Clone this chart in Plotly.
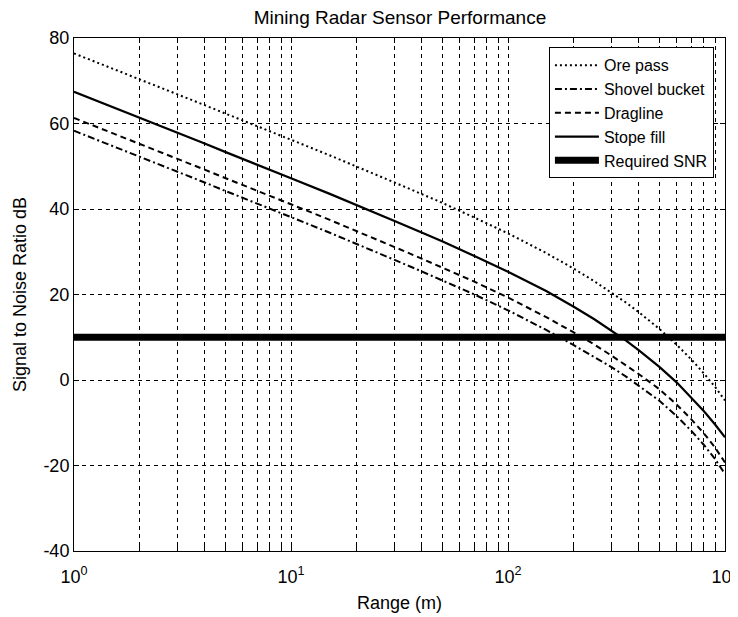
import plotly.graph_objects as go

range_m = [1, 1.5, 2, 3, 4, 5, 7, 10, 15, 20, 30, 40, 50, 70, 100, 150, 200, 250, 300, 350, 400, 500, 600, 700, 800, 900, 1000]

ore_pass = [76.4, 72.9, 70.3, 66.8, 64.3, 62.3, 59.4, 56.2, 52.6, 50.0, 46.2, 43.5, 41.4, 38.0, 34.3, 29.7, 26.1, 23.1, 20.5, 18.1, 15.9, 11.9, 8.2, 4.8, 1.5, -1.6, -4.8]
shovel_bucket = [58.3, 54.8, 52.2, 48.7, 46.2, 44.2, 41.3, 38.1, 34.5, 31.9, 28.1, 25.4, 23.3, 20.0, 16.3, 11.7, 8.2, 5.4, 3.0, 0.8, -1.3, -4.9, -8.5, -11.9, -15.2, -18.5, -22.0]
dragline = [61.3, 57.8, 55.2, 51.7, 49.2, 47.2, 44.3, 41.1, 37.5, 34.9, 31.1, 28.4, 26.3, 23.0, 19.3, 14.7, 11.2, 8.3, 5.7, 3.5, 1.4, -2.2, -5.8, -9.2, -12.5, -15.8, -19.3]
stope_fill = [67.4, 63.9, 61.3, 57.8, 55.3, 53.3, 50.4, 47.2, 43.6, 41.0, 37.2, 34.5, 32.4, 29.0, 25.3, 20.8, 17.2, 14.2, 11.6, 9.2, 7.0, 3.0, -0.6, -4.1, -7.3, -10.4, -13.4]

snr_range = [1, 1000]
required_snr = [10, 10]

decades = [1, 10, 100, 1000]
decade_labels = ["10<sup>0</sup>", "10<sup>1</sup>", "10<sup>2</sup>", "10<sup>3</sup>"]
x_tickvals = [m * d for d in decades[:3] for m in range(1, 10)] + [1000]
x_ticktext = [decade_labels[decades.index(v)] if v in decades else "" for v in x_tickvals]

y_tickvals = [-40, -20, 0, 20, 40, 60, 80]
y_ticktext = ["-40", "-20", "0", "20", "40", "60", "80"]

FONT = "Liberation Sans, Arial, sans-serif"

fig = go.Figure()
series = [
    ("Ore pass", ore_pass, "2px,3px", 2),
    ("Shovel bucket", shovel_bucket, "7px,3px,2px,3px", 2),
    ("Dragline", dragline, "6px,4px", 2),
    ("Stope fill", stope_fill, "solid", 2.2),
]
for name, vals, dash, w in series:
    fig.add_trace(go.Scatter(x=range_m, y=vals, mode="lines", name=name,
                             line=dict(color="black", width=w, dash=dash)))
fig.add_trace(go.Scatter(x=snr_range, y=required_snr, mode="lines", name="Required SNR",
                         line=dict(color="black", width=7)))

axis_common = dict(
    showline=True, linecolor="black", linewidth=1, mirror="allticks",
    ticks="inside", ticklen=5, tickcolor="black",
    showgrid=True, gridcolor="black", gridwidth=1, griddash="4px,4px",
    zeroline=False, automargin=False, tickfont=dict(family=FONT, size=18, color="black"),
)

fig.update_xaxes(type="log", range=[0, 3], tickmode="array", tickvals=x_tickvals, ticktext=x_ticktext,
                 ticklabeloverflow="allow", ticklabelstandoff=9,
                 title=dict(text="Range (m)", font=dict(family=FONT, size=18, color="black"), standoff=10),
                 **axis_common)
fig.update_yaxes(range=[-40, 80], tickmode="array", tickvals=y_tickvals, ticktext=y_ticktext,
                 title=dict(text="Signal to Noise Ratio dB", font=dict(family=FONT, size=18, color="black"), standoff=12),
                 **axis_common)

# page body has an 8px margin, so the figure is sized to fill the visible window
fig.update_layout(
    width=730, height=609,
    margin=dict(l=66, r=13, t=30, b=66),
    paper_bgcolor="white", plot_bgcolor="white",
    title=dict(text="Mining Radar Sensor Performance", x=0.537, xanchor="center", y=0.995, yanchor="top",
               font=dict(family=FONT, size=19, color="black"), automargin=False),
    legend=dict(x=0.983, y=0.982, xanchor="right", yanchor="top", bgcolor="white",
                bordercolor="black", borderwidth=1, font=dict(family=FONT, size=16, color="black"),
                tracegroupgap=0, itemwidth=44),
    showlegend=True,
)

fig.write_html("out.html")
